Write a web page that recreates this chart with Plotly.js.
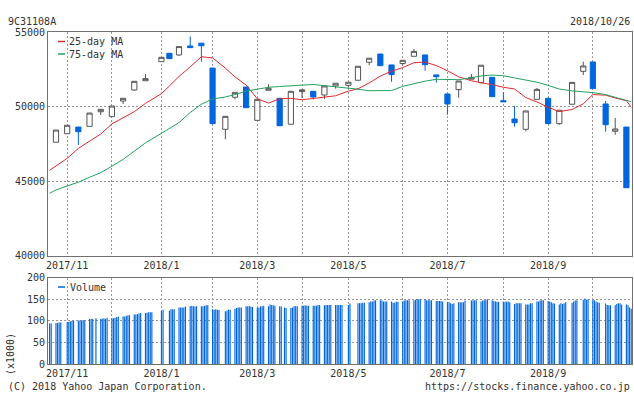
<!DOCTYPE html>
<html><head><meta charset="utf-8">
<script src="https://cdn.plot.ly/plotly-3.0.1.min.js"></script>
<style>html,body{margin:0;padding:0;background:#fff;}#chart{width:634px;height:394px;}</style>
</head><body><div id="chart"></div>
<script>
// ---- weekly candles (first trading day of each week) ----
const weekDates = ['2017-10-30','2017-11-06','2017-11-13','2017-11-20','2017-11-27','2017-12-04','2017-12-11','2017-12-18','2017-12-25',
 '2018-01-04','2018-01-09','2018-01-15','2018-01-22','2018-01-29','2018-02-05','2018-02-13','2018-02-19','2018-02-26',
 '2018-03-05','2018-03-12','2018-03-19','2018-03-26','2018-04-02','2018-04-09','2018-04-16','2018-04-23','2018-05-01',
 '2018-05-07','2018-05-14','2018-05-21','2018-05-28','2018-06-04','2018-06-11','2018-06-18','2018-06-25','2018-07-02',
 '2018-07-09','2018-07-17','2018-07-23','2018-07-30','2018-08-06','2018-08-13','2018-08-20','2018-08-27','2018-09-03',
 '2018-09-10','2018-09-18','2018-09-25','2018-10-01','2018-10-09','2018-10-15','2018-10-22'];
const openP  = [47600,48175,48620,48670,49650,49320,50370,51110,51730,53010,53570,53460,54060,54250,52580,48470,50620,51310,49070,51090,50550,48810,51000,51020,50770,51380,51420,51760,52970,53520,52790,52880,53370,53460,52120,50840,51130,51830,51600,51960,50390,49160,48470,50480,50550,48850,50150,52360,52990,50170,48340,48620];
const highP  = [48420,48740,48630,49560,49830,50030,50560,51690,52180,53300,53570,54020,54700,54250,52580,49340,50950,51310,50480,51500,50550,51020,51120,51020,51380,51560,51640,52700,53240,53520,52790,53100,53860,53460,52120,50840,51710,52180,52770,51960,50970,50030,49700,51240,50550,49750,51620,53010,52990,50370,49230,48620];
const lowP   = [47600,48175,47420,48670,49430,49320,50170,51040,51730,53010,53210,53390,53950,53010,48850,47800,50480,49920,49070,51090,48710,48810,50570,50480,50510,51200,51260,51760,52770,52740,51660,52780,53370,52400,51600,49450,50590,51830,51600,50660,50320,48650,48340,50480,48850,48780,50150,52110,51200,48310,48110,44550];
const closeP = [48420,48740,48310,49560,49810,50030,50550,51690,51870,53300,53210,54020,53950,54080,48850,49340,50950,49920,50480,51220,48710,51020,51120,50640,51380,51560,51630,52700,53240,52740,52140,53100,53700,52810,52000,50170,51710,51960,52770,50660,50320,48910,49700,51150,48850,49750,51620,52720,51200,48780,48490,44550];

// ---- moving averages (sampled at chart start, each week, chart end) ----
const maDates = ['2017-10-26'].concat(weekDates, ['2018-10-25']);
const ma25 = [45720,46030,46520,47190,47700,48150,48830,49240,49650,50210,50860,51380,52020,52660,53340,53260,52580,51990,51440,50520,50230,50520,50550,50450,50550,50600,50720,51030,51190,51580,52040,52370,52610,52940,52980,52750,52400,51990,51730,51590,51470,51290,51180,50600,50310,49950,49660,49800,50180,50800,50760,50570,50390,49950];
const ma75 = [44175,44400,44665,44920,45250,45560,45990,46450,47000,47560,48200,48520,48920,49600,50150,50500,50640,50800,51030,51160,51290,51340,51380,51450,51480,51400,51330,51200,51160,51060,51040,51070,51350,51540,51700,51826,51826,51800,51930,52050,52110,52060,51920,51790,51630,51420,51170,51050,50990,50930,50800,50620,50450,50320];

// ---- daily volume (x1000), business days ----
const holidays = ['2017-11-03','2017-11-23','2018-01-01','2018-01-02','2018-01-03','2018-01-08','2018-02-12','2018-03-21',
 '2018-04-30','2018-05-03','2018-05-04','2018-07-16','2018-09-17','2018-09-24','2018-10-08'];
const volume = [
 94,94,
 95,95,96,96,
 97,98,99,100,100,
 101,101,100,102,101,
 104,104,105,106,
 105,105,106,105,107,
 106,106,107,109,110,
 110,110,111,113,113,
 115,115,116,117,118,
 118,119,120,120,120,
 123,126,
 124,127,127,127,
 131,131,131,131,133,
 134,135,134,133,134,
 134,134,135,136,136,
 127,126,127,126,125,
 122,124,126,126,
 128,130,131,131,131,
 134,134,134,133,132,
 131,131,133,134,135,
 134,138,137,136,135,
 134,133,131,130,
 130,131,134,134,134,
 135,135,136,135,135,
 135,135,135,137,137,
 136,137,137,137,137,
 137,137,137,137,137,
 137,140,
 141,141,141,142,142,
 143,145,145,147,148,
 148,147,145,145,145,
 145,142,142,144,144,
 145,147,148,148,148,
 148,149,150,150,150,
 150,148,148,148,148,
 146,146,146,146,145,
 143,143,141,139,141,
 143,143,143,143,147,
 147,148,148,148,
 145,147,148,149,150,
 148,146,145,144,144,
 144,144,144,145,143,
 139,141,141,141,141,
 138,138,138,141,141,
 145,145,147,148,148,
 146,145,143,141,140,
 138,141,139,141,143,
 142,145,147,148,
 149,152,149,150,
 149,148,145,143,142,
 140,137,136,136,
 136,139,141,141,138,
 138,136,131,128,126];

// ---- axis ticks ----
const monthTicks = ['2017-11-06','2017-12-04','2018-01-04','2018-02-05','2018-03-05','2018-04-02','2018-05-01','2018-06-04','2018-07-02','2018-08-06','2018-09-03','2018-10-01'];
const monthLabels = ['2017/11','','2018/1','','2018/3','','2018/5','','2018/7','','2018/9',''];
const priceTicks = [40000,45000,50000,55000];
const volTicks = [0,50,100,150,200];

function businessDays(start, end, hol) {
  const out = [];
  const d = new Date(start + 'T00:00:00Z');
  const e = new Date(end + 'T00:00:00Z');
  while (d <= e) {
    const s = d.toISOString().slice(0, 10);
    const wd = d.getUTCDay();
    if (wd !== 0 && wd !== 6 && hol.indexOf(s) < 0) out.push(s);
    d.setUTCDate(d.getUTCDate() + 1);
  }
  return out;
}
const volDates = businessDays('2017-10-26', '2018-10-26', holidays);
if (volDates.length !== volume.length) console.warn('volume length mismatch', volDates.length, volume.length);

const BLUE = '#0066dd', RED = '#e52a2f', GREEN = '#22a25f';
const W = 634, H = 394, L = 48, R = 2, T = 32, B = 30;
const px = x => (x - L) / (W - L - R);
const py = y => (H - B - y) / (H - T - B);
const FONT = {family: 'DejaVu Sans Mono, monospace', size: 10, color: '#333'};

const traces = [
  {type: 'scatter', mode: 'lines', x: maDates, y: ma25, line: {color: RED, width: 1}, xaxis: 'x', yaxis: 'y', name: '25-day MA', showlegend: false},
  {type: 'scatter', mode: 'lines', x: maDates, y: ma75, line: {color: GREEN, width: 1}, xaxis: 'x', yaxis: 'y', name: '75-day MA', showlegend: false},
  {type: 'candlestick', x: weekDates, open: openP, high: highP, low: lowP, close: closeP, xaxis: 'x', yaxis: 'y',
   increasing: {line: {color: '#555', width: 1}, fillcolor: '#ffffff'},
   decreasing: {line: {color: BLUE, width: 1}, fillcolor: BLUE},
   whiskerwidth: 0, showlegend: false, name: 'Price'},
  {type: 'bar', x: volDates, y: volume, xaxis: 'x2', yaxis: 'y2', marker: {color: BLUE, line: {width: 0}},
   width: 0.72 * 86400000, name: 'Volume', showlegend: false}
];

const xCommon = {
  type: 'date', range: ['2017-10-25', '2018-10-25 12:00'],
  tickmode: 'array', tickvals: monthTicks, ticktext: monthLabels,
  showgrid: true, gridcolor: '#999', griddash: '2px,2px', gridwidth: 1,
  showline: true, linecolor: '#707070', linewidth: 1, mirror: true,
  ticks: '', tickfont: FONT, zeroline: false, fixedrange: true
};

const layout = {
  width: W, height: H,
  margin: {l: L, r: R, t: T, b: B, pad: 0},
  paper_bgcolor: '#fff', plot_bgcolor: '#fff',
  showlegend: false, hovermode: false,
  boxgap: 0.35, boxgroupgap: 0,
  font: FONT,
  xaxis: Object.assign({}, xCommon, {anchor: 'y', rangeslider: {visible: false}}),
  xaxis2: Object.assign({}, xCommon, {anchor: 'y2', matches: 'x'}),
  yaxis: {domain: [py(255.5), 1], range: [40000, 55000], tickmode: 'array', tickvals: priceTicks, tickformat: 'd',
    showgrid: true, gridcolor: '#999', griddash: '2px,2px', gridwidth: 1,
    showline: true, linecolor: '#707070', linewidth: 1, mirror: true, ticks: '', tickfont: FONT, zeroline: false, fixedrange: true},
  yaxis2: {domain: [0, py(277.7)], range: [0, 200], tickmode: 'array', tickvals: volTicks,
    showgrid: true, gridcolor: '#999', griddash: '2px,2px', gridwidth: 1,
    showline: true, linecolor: '#707070', linewidth: 1, mirror: true, ticks: '', tickfont: FONT, zeroline: false, fixedrange: true},
  shapes: [
    {type: 'line', xref: 'paper', yref: 'paper', x0: px(58), x1: px(65), y0: py(41.5), y1: py(41.5), line: {color: RED, width: 1.5}},
    {type: 'line', xref: 'paper', yref: 'paper', x0: px(58), x1: px(65), y0: py(54), y1: py(54), line: {color: GREEN, width: 1.5}},
    {type: 'line', xref: 'paper', yref: 'paper', x0: px(58), x1: px(65), y0: py(287), y1: py(287), line: {color: BLUE, width: 1.5}}
  ],
  annotations: [
    {text: '9C31108A', xref: 'paper', yref: 'paper', x: px(6), y: py(21), xanchor: 'left', yanchor: 'middle', showarrow: false, font: FONT},
    {text: '2018/10/26', xref: 'paper', yref: 'paper', x: px(632), y: py(21), xanchor: 'right', yanchor: 'middle', showarrow: false, font: FONT},
    {text: '(C) 2018 Yahoo Japan Corporation.', xref: 'paper', yref: 'paper', x: px(6), y: py(386), xanchor: 'left', yanchor: 'middle', showarrow: false, font: FONT},
    {text: 'https://stocks.finance.yahoo.co.jp', xref: 'paper', yref: 'paper', x: px(632), y: py(386), xanchor: 'right', yanchor: 'middle', showarrow: false, font: FONT},
    {text: '(x1000)', xref: 'paper', yref: 'paper', x: px(10), y: py(354), xanchor: 'center', yanchor: 'middle', textangle: -90, showarrow: false, font: FONT},
    {text: '25-day MA', xref: 'paper', yref: 'paper', x: px(67), y: py(41.5), xanchor: 'left', yanchor: 'middle', showarrow: false, font: FONT},
    {text: '75-day MA', xref: 'paper', yref: 'paper', x: px(67), y: py(54), xanchor: 'left', yanchor: 'middle', showarrow: false, font: FONT},
    {text: 'Volume', xref: 'paper', yref: 'paper', x: px(68), y: py(287), xanchor: 'left', yanchor: 'middle', showarrow: false, font: FONT}
  ]
};

Plotly.newPlot('chart', traces, layout, {displayModeBar: false, staticPlot: true});
</script>
</body></html>
